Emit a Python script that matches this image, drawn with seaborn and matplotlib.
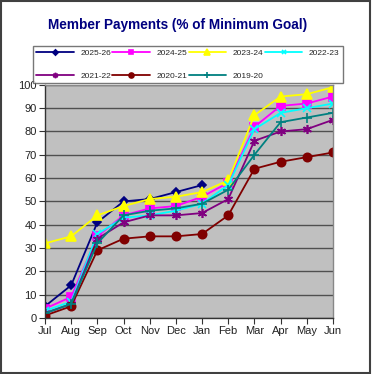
import numpy as np
import pandas as pd
import seaborn as sns
import matplotlib.pyplot as plt
from matplotlib.patches import Rectangle

# months of the fiscal year
months = ["Jul", "Aug", "Sep", "Oct", "Nov", "Dec", "Jan", "Feb", "Mar", "Apr", "May", "Jun"]

# payments as % of minimum goal, per season
fy2526 = [5, 14, 41, 50, 51, 54, 57, np.nan, np.nan, np.nan, np.nan, np.nan]
fy2425 = [4, 9, 35, 44, 47, 48, 52, 58, 82, 91, 92, 95]
fy2324 = [32, 35, 44, 48, 51, 52, 54, 59, 87, 95, 96, 99]
fy2223 = [3, 7, 36, 43, 44, 46, 49, 57, 81, 88, 90, 92]
fy2122 = [2, 6, 34, 41, 44, 44, 45, 51, 76, 80, 81, 85]
fy2021 = [1, 5, 29, 34, 35, 35, 36, 44, 64, 67, 69, 71]
fy1920 = [2, 6, 32, 44, 46, 47, 49, 55, 70, 84, 86, 88]

series = [
    ("2025-26", fy2526, "#000080", "D", 4.5),
    ("2024-25", fy2425, "#FF00FF", "s", 5.5),
    ("2023-24", fy2324, "#FFFF00", "^", 6.5),
    ("2022-23", fy2223, "#00FFFF", "x", 5.5),
    ("2021-22", fy2122, "#800080", (6, 2, 0), 6.5),
    ("2020-21", fy2021, "#800000", "o", 6),
    ("2019-20", fy1920, "#008080", "+", 6.5),
]

sns.set_style("white")
plt.rcParams["font.family"] = ["Liberation Sans", "DejaVu Sans"]

fig = plt.figure(figsize=(3.72, 3.74), dpi=100)
ax = fig.add_axes([0.121, 0.150, 0.774, 0.623])
ax.set_facecolor("#C0C0C0")

xpos = np.arange(len(months))
for name, vals, color, mk, ms in series:
    sns.lineplot(x=xpos, y=vals, ax=ax, color=color, marker=mk, markersize=ms,
                 markeredgecolor=color, markeredgewidth=1.2, linewidth=1.3, label=name)

ax.set_xlim(0, len(months) - 1)
ax.set_ylim(0, 100)
ax.set_yticks(range(0, 101, 10))
ax.set_xticks(xpos)
ax.set_xticklabels(months)
ax.yaxis.grid(True, color="#505050", linewidth=1.0)
ax.xaxis.grid(False)
ax.tick_params(axis="both", labelsize=8, length=4, direction="out", color="#333333",
               left=True, bottom=True, labelcolor="#222222", pad=2)
for side in ["left", "bottom"]:
    ax.spines[side].set_color("#333333")
    ax.spines[side].set_linewidth(1.0)
for side in ["right", "top"]:
    ax.spines[side].set_color("#888888")
    ax.spines[side].set_linewidth(1.0)

fig.text(0.478, 0.932, "Member Payments (% of Minimum Goal)", ha="center", va="center",
         fontsize=9.8, fontweight="bold", color="#000080")

# row-major legend order for 4 columns
handles, labels = ax.get_legend_handles_labels()
order = [0, 4, 1, 5, 2, 6, 3]
leg = ax.legend([handles[i] for i in order], [labels[i] for i in order],
                loc="lower left", bbox_to_anchor=(33 / 372, 291 / 374, 310 / 372, 42 / 374),
                bbox_transform=fig.transFigure, mode="expand", ncol=4, fontsize=6,
                frameon=True, fancybox=False, handlelength=4.5, borderaxespad=0,
                columnspacing=1.5, labelspacing=1.8, markerscale=0.6)
leg.get_frame().set_edgecolor("#555555")
leg.get_frame().set_linewidth(1.0)

fig.patches.append(Rectangle((0.002, 0.003), 0.993, 0.994, transform=fig.transFigure,
                             fill=False, edgecolor="#404040", linewidth=1.5))

fig.savefig("out.png", dpi=100)
